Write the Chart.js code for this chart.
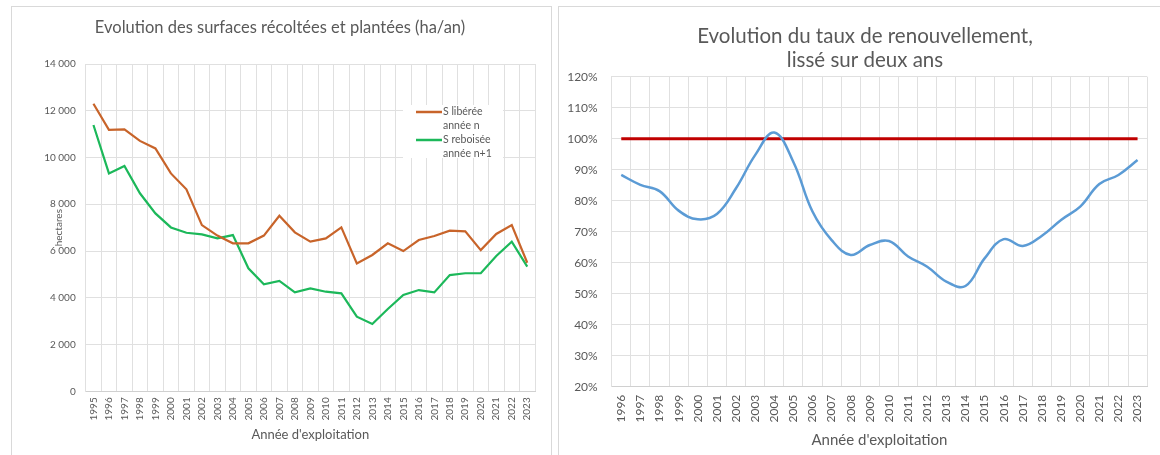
<!DOCTYPE html>
<html lang="fr">
<head>
<meta charset="utf-8">
<title>Surfaces récoltées et taux de renouvellement</title>
<script src="https://cdn.jsdelivr.net/npm/chart.js@4.4.1/dist/chart.umd.min.js"></script>
<style>
  html, body { margin: 0; padding: 0; background: #ffffff; overflow: hidden; }
  body { width: 1160px; height: 455px; position: relative; }
  .box { position: absolute; border: 1px solid #d9d9d9; background: #fff; }
  #boxLeft { left: 11px; top: 6px; width: 539px; height: 460px; }
  #boxRight { left: 558px; top: 6px; width: 610px; height: 460px; }
  canvas { display: block; }
</style>
</head>
<body>
<div class="box" id="boxLeft"><canvas id="surfChart" width="539" height="448"></canvas></div>
<div class="box" id="boxRight"><canvas id="tauxChart" width="601" height="448"></canvas></div>

<script>
// ---- Data ----
const yearsSurf = ['1995', '1996', '1997', '1998', '1999', '2000', '2001', '2002', '2003', '2004',
    '2005', '2006', '2007', '2008', '2009', '2010', '2011', '2012', '2013', '2014',
    '2015', '2016', '2017', '2018', '2019', '2020', '2021', '2022', '2023'];
const surfLiberee = [12300, 11180, 11200, 10710, 10390, 9320, 8640, 7110, 6660, 6330,
    6330, 6660, 7510, 6800, 6400, 6540, 7010, 5470, 5830, 6330,
    6000, 6470, 6640, 6870, 6840, 6040, 6730, 7110, 5500];
const surfReboisee = [11390, 9320, 9640, 8470, 7610, 7010, 6780, 6710, 6540, 6680,
    5260, 4580, 4720, 4230, 4400, 4260, 4190, 3190, 2880, 3520,
    4120, 4330, 4230, 4970, 5050, 5050, 5790, 6400, 5330];

const yearsTaux = ['1996', '1997', '1998', '1999', '2000', '2001', '2002', '2003', '2004', '2005',
    '2006', '2007', '2008', '2009', '2010', '2011', '2012', '2013', '2014', '2015',
    '2016', '2017', '2018', '2019', '2020', '2021', '2022', '2023'];
const tauxLisse = [88.3, 85.1, 83.1, 76.8, 74.0, 75.7, 84.0, 94.7, 102.0, 92.5,
    76.5, 67.3, 62.5, 65.7, 67.0, 62.0, 58.7, 53.9, 52.5, 61.4,
    67.6, 65.4, 68.7, 73.8, 78.1, 85.4, 88.3, 93.1];
const seuil = [100, 100, 100, 100, 100, 100, 100, 100, 100, 100,
    100, 100, 100, 100, 100, 100, 100, 100, 100, 100,
    100, 100, 100, 100, 100, 100, 100, 100];

// ---- Theme ----
Chart.defaults.font.family = "Lato, 'Open Sans', sans-serif";
Chart.defaults.color = '#595959';
const GRID = '#e0e0e0';
const COLORS = {
    orange: '#c8642a',
    green: '#1cb85a',
    blue: '#5b9bd5',
    red: '#c00000'
};

function fmtThousands(v) {
    return String(v).replace(/\B(?=(\d{3})+(?!\d))/g, ' ');
}

// draws the chart title(s) at fixed spots
function titlePlugin(lines, x, ys, size) {
    return {
        id: 'fixedTitle',
        afterDraw(chart) {
            const ctx = chart.ctx;
            ctx.save();
            ctx.fillStyle = '#595959';
            ctx.font = size + 'px Lato, sans-serif';
            ctx.textAlign = 'center';
            ctx.textBaseline = 'middle';
            lines.forEach((t, i) => ctx.fillText(t, x, ys[i]));
            ctx.restore();
        }
    };
}

// legend box inside the plot (two-line labels like Excel)
const insideLegend = {
    id: 'insideLegend',
    afterDatasetsDraw(chart) {
        const ctx = chart.ctx;
        const items = [
            { color: COLORS.orange, lines: ['S libérée', 'année n'] },
            { color: COLORS.green, lines: ['S reboisée', 'année n+1'] }
        ];
        ctx.save();
        ctx.fillStyle = '#ffffff';
        ctx.fillRect(391, 98, 100, 53);
        ctx.font = '10.5px Lato, sans-serif';
        ctx.textBaseline = 'middle';
        ctx.textAlign = 'left';
        items.forEach((it, i) => {
            const y = 105 + i * 28;
            ctx.strokeStyle = it.color;
            ctx.lineWidth = 2.5;
            ctx.beginPath();
            ctx.moveTo(404, y);
            ctx.lineTo(430, y);
            ctx.stroke();
            ctx.fillStyle = '#595959';
            ctx.fillText(it.lines[0], 431, y);
            ctx.fillText(it.lines[1], 431, y + 14);
        });
        ctx.restore();
    }
};

// ---- Chart 1: surfaces ----
new Chart(document.getElementById('surfChart').getContext('2d'), {
    type: 'line',
    data: {
        labels: yearsSurf,
        datasets: [
            { label: 'S libérée année n', data: surfLiberee, borderColor: COLORS.orange, borderWidth: 2.2, pointRadius: 0, tension: 0 },
            { label: 'S reboisée année n+1', data: surfReboisee, borderColor: COLORS.green, borderWidth: 2.2, pointRadius: 0, tension: 0 }
        ]
    },
    options: {
        responsive: false,
        animation: false,
        layout: { padding: { top: 57, right: 16, bottom: 0, left: 0 } },
        plugins: { legend: { display: false }, tooltip: { enabled: false } },
        scales: {
            x: {
                offset: true,
                grid: { color: GRID, offset: true, drawTicks: false },
                border: { color: '#d0d0d0' },
                ticks: { font: { size: 10 }, minRotation: 90, maxRotation: 90, padding: 6, autoSkip: false },
                title: { display: true, text: "Année d'exploitation", font: { size: 13 }, padding: { top: 0, bottom: 12.5 } },
                afterFit(s) { s.height = 63.7; }
            },
            y: {
                min: 0, max: 14000,
                grid: { color: GRID, drawTicks: false },
                border: { color: GRID },
                ticks: { stepSize: 2000, font: { size: 10 }, padding: 10, callback: v => fmtThousands(v) },
                title: { display: true, text: 'hectares', font: { size: 10 }, padding: { top: 41, bottom: 0 } },
                afterFit(s) { s.width = 73.7; }
            }
        }
    },
    plugins: [insideLegend, titlePlugin(['Evolution des surfaces récoltées et plantées (ha/an)'], 268, [21], 16.5)]
});

// ---- Chart 2: taux de renouvellement ----
new Chart(document.getElementById('tauxChart').getContext('2d'), {
    type: 'line',
    data: {
        labels: yearsTaux,
        datasets: [
            { label: 'Taux lissé', data: tauxLisse, borderColor: COLORS.blue, borderWidth: 2.5, pointRadius: 0, tension: 0.4 },
            { label: 'Seuil 100 %', data: seuil, borderColor: COLORS.red, borderWidth: 3, pointRadius: 0, tension: 0 }
        ]
    },
    options: {
        responsive: false,
        animation: false,
        layout: { padding: { top: 69.7, right: 2, bottom: 0, left: 0 } },
        plugins: { legend: { display: false }, tooltip: { enabled: false } },
        scales: {
            x: {
                offset: true,
                grid: { color: GRID, offset: true, drawTicks: false },
                border: { color: '#d0d0d0' },
                ticks: { font: { size: 12 }, minRotation: 90, maxRotation: 90, padding: 8, autoSkip: false },
                title: { display: true, text: "Année d'exploitation", font: { size: 15 }, padding: { top: 0, bottom: 6 } },
                afterFit(s) { s.height = 68.3; }
            },
            y: {
                min: 20, max: 120,
                grid: { color: GRID, drawTicks: false },
                border: { color: GRID },
                ticks: { stepSize: 10, font: { size: 12 }, padding: 14, callback: v => v + '%' },
                afterFit(s) { s.width = 52.7; }
            }
        }
    },
    plugins: [titlePlugin(['Evolution du taux de renouvellement,', 'lissé sur deux ans'], 306, [29, 53], 20.5)]
});
</script>
</body>
</html>
